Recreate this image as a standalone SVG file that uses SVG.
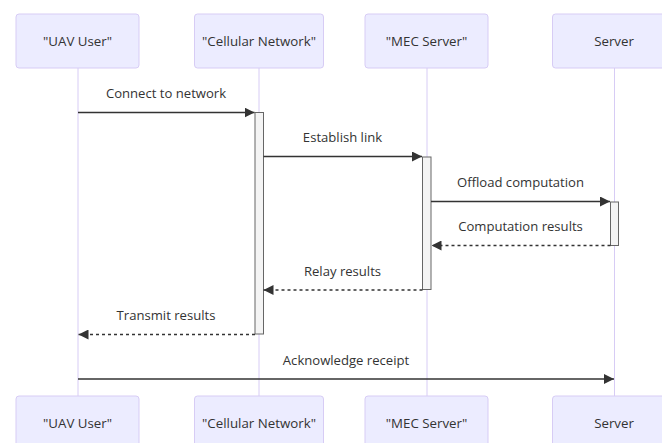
<svg xmlns="http://www.w3.org/2000/svg" width="662" height="443" viewBox="0 0 662 443">
  <defs>
    <marker id="arrowhead" viewBox="0 0 10 10" refX="10" refY="5" markerUnits="userSpaceOnUse" markerWidth="10" markerHeight="10" orient="auto">
      <path d="M0,0 L10,5 L0,10 z" fill="#333"/>
    </marker>
    <style>
      .actor { fill: #ECECFF; stroke: #d7ccf5; stroke-width: 1; }
      .actor-label { font-family: "Open Sans", "Liberation Sans", sans-serif; font-size: 13.3px; fill: #333; text-anchor: middle; }
      .lifeline { stroke: #d7ccf5; stroke-width: 1; }
      .activation { fill: #f4f4f4; stroke: #666; stroke-width: 1; }
      .msg { stroke: #333; stroke-width: 1.5; fill: none; marker-end: url(#arrowhead); }
      .msg.dashed { stroke-dasharray: 3,3; }
      .msg-label { font-family: "Open Sans", "Liberation Sans", sans-serif; font-size: 13.1px; fill: #333; text-anchor: middle; }
    </style>
  </defs>
  <rect width="662" height="443" fill="#ffffff"/>

  <!-- lifelines -->
  <g id="lifelines">
    <line class="lifeline" x1="78" y1="68" x2="78" y2="396"/>
    <line class="lifeline" x1="259" y1="68" x2="259" y2="396"/>
    <line class="lifeline" x1="427" y1="68" x2="427" y2="396"/>
    <line class="lifeline" x1="614.5" y1="68" x2="614.5" y2="396"/>
  </g>

  <!-- participants, top row -->
  <g id="actor-uav-top">
    <rect class="actor" x="16" y="14" width="123" height="54" rx="3"/>
    <text class="actor-label" x="77.5" y="46.2">"UAV User"</text>
  </g>
  <g id="actor-cell-top">
    <rect class="actor" x="194.5" y="14" width="129" height="54" rx="3"/>
    <text class="actor-label" x="259" y="46.2">"Cellular Network"</text>
  </g>
  <g id="actor-mec-top">
    <rect class="actor" x="365" y="14" width="123" height="54" rx="3"/>
    <text class="actor-label" x="426.5" y="46.2">"MEC Server"</text>
  </g>
  <g id="actor-server-top">
    <rect class="actor" x="552.5" y="14" width="123" height="54" rx="3"/>
    <text class="actor-label" x="614" y="46.2">Server</text>
  </g>

  <!-- activations -->
  <g id="activations">
    <rect class="activation" x="255" y="112.5" width="8.5" height="221.5"/>
    <rect class="activation" x="422.5" y="157" width="8.5" height="132.5"/>
    <rect class="activation" x="610.5" y="202" width="8" height="43.5"/>
  </g>

  <!-- messages -->
  <g id="connectors">
    <line class="msg" x1="78" y1="112.5" x2="254.5" y2="112.5"/>
    <line class="msg" x1="263.5" y1="156.5" x2="422" y2="156.5"/>
    <line class="msg" x1="431" y1="201.5" x2="610" y2="201.5"/>
    <line class="msg dashed" x1="610.5" y1="245.5" x2="431.5" y2="245.5"/>
    <line class="msg dashed" x1="422.5" y1="290" x2="263.5" y2="290"/>
    <line class="msg dashed" x1="255" y1="334.5" x2="78.5" y2="334.5"/>
    <line class="msg" x1="78" y1="379" x2="614" y2="379"/>
  </g>

  <g id="message-labels">
    <text class="msg-label" x="166" y="98.3">Connect to network</text>
    <text class="msg-label" x="342.5" y="142.3">Establish link</text>
    <text class="msg-label" x="520.5" y="187.3">Offload computation</text>
    <text class="msg-label" x="520.5" y="231.3">Computation results</text>
    <text class="msg-label" x="342.5" y="275.8">Relay results</text>
    <text class="msg-label" x="166" y="320.3">Transmit results</text>
    <text class="msg-label" x="346" y="364.8">Acknowledge receipt</text>
  </g>

  <!-- participants, bottom row -->
  <g id="actor-uav-bottom">
    <rect class="actor" x="16" y="396" width="123" height="54" rx="3"/>
    <text class="actor-label" x="77.5" y="428.2">"UAV User"</text>
  </g>
  <g id="actor-cell-bottom">
    <rect class="actor" x="194.5" y="396" width="129" height="54" rx="3"/>
    <text class="actor-label" x="259" y="428.2">"Cellular Network"</text>
  </g>
  <g id="actor-mec-bottom">
    <rect class="actor" x="365" y="396" width="123" height="54" rx="3"/>
    <text class="actor-label" x="426.5" y="428.2">"MEC Server"</text>
  </g>
  <g id="actor-server-bottom">
    <rect class="actor" x="552.5" y="396" width="123" height="54" rx="3"/>
    <text class="actor-label" x="614" y="428.2">Server</text>
  </g>
</svg>
